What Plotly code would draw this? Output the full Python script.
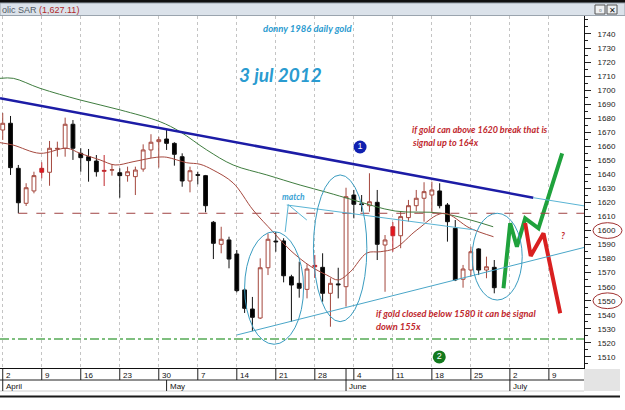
import plotly.graph_objects as go
import pandas as pd

W, H = 625, 410

# ---------------- data ----------------
days = pd.bdate_range("2012-04-02", "2012-06-28")
opens = [1671.6, 1676.4, 1644.3, 1619.4, 1628.2, 1641.5, 1641.5, 1658.0, 1658.6, 1675.7,
         1655.0, 1652.6, 1649.5, 1642.2, 1643.0, 1641.2, 1639.1, 1638.4, 1643.8, 1657.4,
         1663.3, 1665.2, 1662.1, 1652.6, 1635.3, 1639.8, 1639.1, 1605.9, 1590.2, 1593.3,
         1583.3, 1557.7, 1544.1, 1537.7, 1573.5, 1592.5, 1592.6, 1567.1, 1562.4, 1558.1,
         1574.2, 1573.8, 1555.3, 1562.0, 1560.0, 1625.3, 1619.0, 1617.7, 1620.1, 1589.7,
         1596.3, 1596.3, 1609.2, 1617.7, 1623.0, 1625.3, 1628.2, 1618.2, 1601.6, 1565.3,
         1571.9, 1586.9, 1571.9, 1573.8]
highs = [1683.7, 1681.6, 1646.7, 1633.7, 1641.9, 1648.6, 1663.8, 1663.3, 1680.4, 1678.7,
         1658.6, 1658.1, 1653.8, 1653.8, 1647.4, 1644.3, 1645.5, 1645.5, 1661.4, 1668.6,
         1666.8, 1671.6, 1662.9, 1655.0, 1645.5, 1641.9, 1639.6, 1606.8, 1602.7, 1595.6,
         1586.1, 1559.0, 1552.7, 1580.2, 1598.0, 1599.0, 1594.5, 1568.5, 1577.8, 1576.0,
         1582.6, 1583.8, 1566.0, 1573.5, 1630.5, 1628.9, 1625.3, 1640.8, 1628.9, 1596.8,
         1606.0, 1613.4, 1621.8, 1628.9, 1634.4, 1634.8, 1633.7, 1619.6, 1607.5, 1575.5,
         1588.5, 1587.4, 1581.4, 1579.0]
lows = [1664.5, 1639.6, 1612.3, 1617.5, 1626.5, 1637.2, 1631.9, 1652.6, 1652.6, 1650.3,
        1641.9, 1634.8, 1638.4, 1631.7, 1639.1, 1623.4, 1634.8, 1625.3, 1641.9, 1651.5,
        1644.8, 1657.4, 1646.2, 1631.2, 1627.2, 1632.9, 1613.0, 1579.7, 1583.8, 1573.1,
        1556.0, 1541.3, 1528.4, 1537.0, 1568.3, 1584.9, 1563.1, 1535.1, 1552.2, 1551.7,
        1566.2, 1549.3, 1531.5, 1551.7, 1545.8, 1608.7, 1613.4, 1613.4, 1579.0, 1556.4,
        1584.9, 1587.4, 1606.3, 1613.9, 1606.3, 1612.3, 1615.8, 1592.1, 1564.0, 1559.3,
        1567.1, 1568.3, 1566.0, 1555.3]
closes = [1676.4, 1644.8, 1619.8, 1630.5, 1639.1, 1644.3, 1658.6, 1658.5, 1675.7, 1658.6,
          1651.9, 1649.8, 1641.9, 1642.8, 1643.3, 1639.1, 1641.9, 1643.1, 1657.4, 1662.9,
          1664.7, 1662.1, 1654.3, 1635.3, 1642.6, 1639.4, 1617.7, 1590.9, 1593.8, 1579.7,
          1557.2, 1544.6, 1538.2, 1573.5, 1593.8, 1592.0, 1567.8, 1561.2, 1558.9, 1572.6,
          1575.2, 1555.3, 1562.4, 1561.4, 1624.1, 1618.7, 1618.5, 1620.5, 1590.2, 1593.3,
          1602.7, 1609.9, 1617.7, 1623.0, 1627.7, 1628.9, 1617.7, 1606.3, 1564.8, 1572.6,
          1584.9, 1571.9, 1574.2, 1559.3]
red_days = ["2012-04-09", "2012-04-19", "2012-05-28", "2012-06-11"]

# moving averages (trading-day position, price)
ma_short_pos = [-0.35, 1.32, 4.78, 8.21, 9.91, 12.47, 14.4, 16.7, 19.74, 21.03, 22.31, 23.59,
                25.29, 26.96, 29.53, 32.09, 34.65, 36.83, 39.4, 41.54, 42.99, 44.53, 46.67,
                48.37, 50.29, 53.08, 56.49, 59.91, 62.9]
ma_short_val = [1662.6, 1660.9, 1655.0, 1658.6, 1655.0, 1650.3, 1646.7, 1649.0, 1652.2, 1652.2,
                1650.3, 1648.3, 1647.2, 1643.1, 1633.9, 1614.6, 1599.0, 1586.1, 1574.7, 1568.3,
                1564.8, 1570.5, 1584.0, 1584.9, 1587.4, 1600.4, 1612.3, 1601.6, 1595.6]
ma_long_pos = [-0.35, 1.36, 4.78, 9.91, 15.05, 20.17, 22.73, 26.15, 29.53, 33.85, 38.12,
               41.54, 44.91, 50.29, 56.28, 62.86]
ma_long_val = [1708.4, 1708.4, 1701.3, 1693.0, 1685.9, 1677.5, 1670.4, 1657.4, 1646.7, 1639.6,
               1632.4, 1627.2, 1621.8, 1613.9, 1612.3, 1602.7]

# hand-drawn scenarios
bull_pos = [64.18, 65.04, 65.9, 66.96, 68.67, 71.7]
bull_val = [1558.9, 1605.2, 1588.5, 1608.7, 1601.6, 1654.9]
bear_pos = [66.96, 67.67, 69.31, 71.45]
bear_val = [1605.4, 1581.9, 1598.0, 1541.1]

# trend lines: (pos0, val0, pos1, val1)
resistance = (-0.35, 1694.2, 68.0, 1623.4)
resistance_ext = (68.0, 1623.4, 74.6, 1617.5)
support = (30.0, 1525.6, 74.9, 1588.5)
match_line = (36.41, 1618.2, 60.55, 1600.4)
match_v1 = (36.6, 1618.4, 38.97, 1607.5)
match_v2 = (36.6, 1618.4, 36.2, 1599.0)
level_top = 1612.3
level_bottom = 1522.8
# ellipses (pos0, pos1, val_low, val_high)
ellipses = [(31.0, 38.56, 1519.0, 1599.2), (39.82, 46.67, 1535.1, 1639.6), (60.17, 66.58, 1550.5, 1612.3)]

week_labels = ["2", "9", "16", "23", "30", "7", "14", "21", "28", "4", "11", "18", "25", "2", "9"]
week_pos = [5 * i for i in range(len(week_labels))]
month_labels = ["April", "May", "June", "July"]
month_pos = [0, 21, 44, 65]
ytick_vals = list(range(1510, 1741, 10))

marker1 = (45.8, 1659.5)
marker2 = (55.95, 1510.0)
question = (71.83, 1596.8)

# ---------------- helpers ----------------
XR = [-0.35, 74.5]
YR = [1502.1, 1752.8]
PLOT_R = 584   # px
PLOT_T = 16
PLOT_B = 368


def px(p):
    return p / W


def py(p):
    return 1 - p / H


pos = list(range(len(days)))
ds = [d.strftime("%Y-%m-%d") for d in days]
is_red = [d in red_days for d in ds]

fig = go.Figure()

norm_idx = [i for i in pos if not is_red[i]]
red_idx = [i for i in pos if is_red[i]]

BROWN = "#a4473d"
fig.add_trace(go.Candlestick(
    x=[pos[i] for i in norm_idx],
    open=[opens[i] for i in norm_idx], high=[highs[i] for i in norm_idx],
    low=[lows[i] for i in norm_idx], close=[closes[i] for i in norm_idx],
    increasing=dict(line=dict(color=BROWN, width=1), fillcolor="white"),
    decreasing=dict(line=dict(color="#111111", width=1), fillcolor="#000000"),
    showlegend=False, hoverinfo="skip"))
fig.add_trace(go.Candlestick(
    x=[pos[i] for i in red_idx],
    open=[opens[i] for i in red_idx], high=[highs[i] for i in red_idx],
    low=[lows[i] for i in red_idx], close=[closes[i] for i in red_idx],
    increasing=dict(line=dict(color="#c0282d", width=1), fillcolor="#e8141c"),
    decreasing=dict(line=dict(color="#c0282d", width=1), fillcolor="#e8141c"),
    showlegend=False, hoverinfo="skip"))

fig.add_trace(go.Scatter(x=ma_long_pos, y=ma_long_val, mode="lines", line=dict(color="#3f7d3f", width=1, shape="spline"),
                         showlegend=False, hoverinfo="skip"))
fig.add_trace(go.Scatter(x=ma_short_pos, y=ma_short_val, mode="lines", line=dict(color="#a5483e", width=1, shape="spline"),
                         showlegend=False, hoverinfo="skip"))

fig.add_trace(go.Scatter(x=bull_pos, y=bull_val, mode="lines", line=dict(color="#1fa23c", width=4),
                         showlegend=False, hoverinfo="skip"))
fig.add_trace(go.Scatter(x=bear_pos, y=bear_val, mode="lines", line=dict(color="#d92020", width=4),
                         showlegend=False, hoverinfo="skip"))

fig.add_trace(go.Scatter(x=[marker1[0]], y=[marker1[1]], mode="markers+text", text=["1"],
                         textfont=dict(color="white", size=9, family="Liberation Sans"),
                         marker=dict(size=13, color="#1020b0"), showlegend=False, hoverinfo="skip"))
fig.add_trace(go.Scatter(x=[marker2[0]], y=[marker2[1]], mode="markers+text", text=["2"],
                         textfont=dict(color="white", size=9, family="Liberation Sans"),
                         marker=dict(size=13, color="#137a1e"), showlegend=False, hoverinfo="skip"))

shapes = []
# title bar
shapes.append(dict(type="rect", xref="paper", yref="paper", x0=0, x1=1, y0=py(3), y1=1,
                   fillcolor="#101010", line_width=0, layer="above"))
shapes.append(dict(type="rect", xref="paper", yref="paper", x0=0, x1=1, y0=py(15.5), y1=py(3),
                   fillcolor="#dbe2ea", line=dict(color="#9aa4ae", width=1), layer="above"))
for bx in (595, 607):
    shapes.append(dict(type="rect", xref="paper", yref="paper", x0=px(bx), x1=px(bx + 10), y0=py(14), y1=py(5),
                       fillcolor="#eef0f2", line=dict(color="#555", width=1), layer="above"))


def seg(t, color, width, dash="solid"):
    shapes.append(dict(type="line", xref="x", yref="y", x0=t[0], y0=t[1], x1=t[2], y1=t[3],
                       line=dict(color=color, width=width, dash=dash)))


seg((2.0, level_top, XR[1], level_top), "#a04444", 1, "dash")
seg((XR[0], level_bottom, XR[1], level_bottom), "#55aa55", 1.5, "dashdot")
seg(resistance, "#1c1ca6", 2.5)
seg(resistance_ext, "#5ab4d4", 1)
seg(support, "#4aa6c8", 1)
seg(match_line, "#5ab4d4", 1)
seg(match_v1, "#5ab4d4", 1)
seg(match_v2, "#5ab4d4", 1)
for e in ellipses:
    shapes.append(dict(type="circle", xref="x", yref="y", x0=e[0], x1=e[1], y0=e[2], y1=e[3],
                       line=dict(color="#3a9cc0", width=1)))

# right-axis highlighted labels
for v in (1600, 1550):
    shapes.append(dict(type="circle", xref="paper", yref="y", x0=px(593), x1=px(622), y0=v - 5.6, y1=v + 5.6,
                       line=dict(color="#a03030", width=1)))

# bottom date rows
shapes.append(dict(type="rect", xref="paper", yref="paper", x0=px(PLOT_R), x1=px(620), y0=py(391), y1=py(369),
                   fillcolor="#e4e4e4", line_width=0))
shapes.append(dict(type="line", xref="paper", yref="paper", x0=0, x1=px(PLOT_R), y0=py(380), y1=py(380),
                   line=dict(color="#222", width=1)))
shapes.append(dict(type="line", xref="paper", yref="paper", x0=0, x1=px(PLOT_R), y0=py(391), y1=py(391),
                   line=dict(color="#d0d0d0", width=1)))
shapes.append(dict(type="rect", xref="paper", yref="paper", x0=0, x1=px(620), y0=py(397.5), y1=py(395.5),
                   fillcolor="#1a1a1a", line_width=0))
for p in week_pos:
    shapes.append(dict(type="line", xref="x", yref="paper", x0=p, x1=p, y0=py(380), y1=py(369),
                       line=dict(color="#222", width=1)))
for p in month_pos:
    shapes.append(dict(type="line", xref="x", yref="paper", x0=p, x1=p, y0=py(391), y1=py(380),
                       line=dict(color="#222", width=1)))
shapes.append(dict(type="line", xref="x", yref="paper", x0=month_pos[2], x1=month_pos[2], y0=py(380), y1=py(369),
                   line=dict(color="#222", width=1)))

annotations = []
AX = "Liberation Sans"
for p, t in zip(week_pos, week_labels):
    annotations.append(dict(x=p, y=py(375), xref="x", yref="paper", text=t, showarrow=False,
                            xanchor="left", yanchor="middle", xshift=1, font=dict(size=8, family=AX, color="#111")))
for p, t in zip(month_pos, month_labels):
    annotations.append(dict(x=p, y=py(386), xref="x", yref="paper", text=t, showarrow=False,
                            xanchor="left", yanchor="middle", xshift=1, font=dict(size=8, family=AX, color="#111")))

annotations.append(dict(x=0, y=py(9.5), xref="paper", yref="paper", xanchor="left", yanchor="middle", showarrow=False,
                        text="olic SAR <span style='color:#b02a2a'>(1,627.11)</span>",
                        font=dict(size=9, family=AX, color="#505a64")))
annotations.append(dict(x=px(600), y=py(9.5), xref="paper", yref="paper", showarrow=False, text="▫",
                        xanchor="center", yanchor="middle", font=dict(size=8, color="#222")))
annotations.append(dict(x=px(612), y=py(9.5), xref="paper", yref="paper", showarrow=False, text="✕",
                        xanchor="center", yanchor="middle", font=dict(size=8, color="#111")))

TF = "Lato"
annotations.append(dict(x=px(308), y=py(29), xref="paper", yref="paper", showarrow=False,
                        xanchor="center", yanchor="middle",
                        text="<b><i>donny 1986 daily gold</i></b>", font=dict(size=9.5, family=TF, color="#2a9bd0")))
annotations.append(dict(x=px(280), y=py(75), xref="paper", yref="paper", showarrow=False,
                        xanchor="center", yanchor="middle",
                        text="<b><i>3 jul 2012</i></b>", font=dict(size=19, family=TF, color="#2a9bd0")))
annotations.append(dict(x=px(293), y=py(197), xref="paper", yref="paper", showarrow=False,
                        xanchor="center", yanchor="middle",
                        text="<b><i>match</i></b>", font=dict(size=8.5, family=TF, color="#3aa2d4")))
for (x0, y0, t, s) in [(411, 129.5, "if gold can above 1620 break that is", 9),
                       (411, 142.5, "signal up to 164x", 9),
                       (375, 313, "if gold closed below 1580 it can be signal", 9.3),
                       (375, 326.5, "down 155x", 9.3)]:
    annotations.append(dict(x=px(x0), y=py(y0), xref="paper", yref="paper", showarrow=False,
                            xanchor="left", yanchor="middle", borderpad=0,
                            text="<b><i>" + t + "</i></b>", font=dict(size=s, family=TF, color="#c0272d")))
annotations.append(dict(x=question[0], y=question[1], xref="x", yref="y", showarrow=False,
                        xanchor="center", yanchor="middle",
                        text="<b><i>?</i></b>", font=dict(size=9, family=TF, color="#c0272d")))

fig.update_layout(
    width=W, height=H, margin=dict(l=0, r=0, t=0, b=0, autoexpand=False),
    paper_bgcolor="white", plot_bgcolor="white",
    shapes=shapes, annotations=annotations, showlegend=False,
    xaxis=dict(domain=[0, px(PLOT_R)], range=XR, tickmode="array", tickvals=week_pos, showticklabels=False, ticks="",
               showgrid=True, gridcolor="#c4c4c4", griddash="dot", gridwidth=1, zeroline=False,
               showline=True, linecolor="#111", linewidth=1, mirror=True, rangeslider=dict(visible=False),
               fixedrange=True, automargin=False),
    yaxis=dict(domain=[py(PLOT_B), py(PLOT_T)], range=YR, side="right", tickmode="array", tickvals=ytick_vals,
               ticks="outside", ticklen=6,
               tickcolor="#222", showgrid=False, zeroline=False, showline=True, linecolor="#111", linewidth=1,
               tickfont=dict(size=8, family=AX, color="#222"), ticklabelstandoff=5,
               minor=dict(ticks="outside", ticklen=3, dtick=5, tick0=1505, tickcolor="#222"),
               fixedrange=True, automargin=False),
)

fig.write_html("out.html", config={"displayModeBar": False},
               post_script="document.body.style.margin='0';document.body.style.overflow='hidden';")
